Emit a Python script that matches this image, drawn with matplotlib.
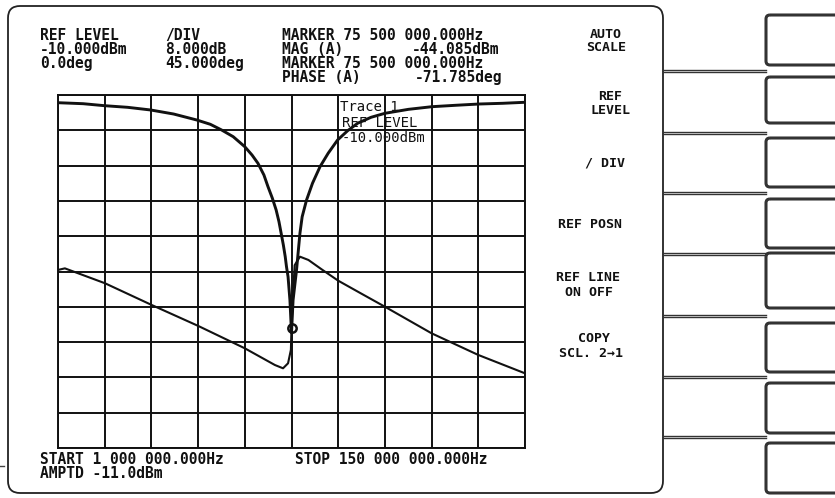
import numpy as np
import matplotlib.pyplot as plt
from matplotlib.patches import FancyBboxPatch

W, H = 835, 498

# --- trace data ---
# magnitude trace (MHz, dBm)
mag_freq = [1.1, 9.0, 15.8, 23.2, 30.6, 37.9, 45.3, 49.6, 53.2, 56.9, 60.6, 62.9, 64.8, 66.7,
            68.0, 69.4, 70.6, 71.5, 72.2, 72.9, 73.5, 73.9, 74.4, 75.0, 75.5,
            76.0, 77.1, 78.2, 78.9, 80.3, 82.2, 84.6, 87.2, 90.2, 93.4, 96.6, 100.9,
            105.3, 112.8, 120.3, 127.9, 135.4, 142.9, 150.0]
mag_dbm = [-11.75, -11.97, -12.42, -12.79, -13.40, -14.31, -15.67, -16.64, -17.93, -19.45, -21.72,
           -23.6, -25.48, -28.13, -30.78, -33.41, -36.06, -38.71, -41.34, -43.99, -46.65, -48.91,
           -51.18, -56.5, -63.9,
           -56.5, -49.7, -41.3, -37.6, -33.8, -30.0, -26.25, -23.2, -20.2, -18.1, -16.4, -15.05,
           -14.15, -13.25, -12.65, -12.33, -12.04, -11.88, -11.65]

# phase trace (MHz, deg)
ph_freq = [1.0, 3.2, 16.0, 30.9, 45.8, 60.6, 70.2, 72.8, 74.4, 75.3, 75.5, 75.9, 76.5, 78.2,
           80.9, 85.1, 90.4, 97.6, 105.3, 120.2, 135.1, 150.0]
ph_deg = [2, 4, -15, -42.7, -69.5, -97.9, -119.2, -123.4, -117, -100, -72, -36, 8, 18.9,
          14.7, 2.8, -11.7, -27.8, -44.9, -78.8, -106.4, -129.8]

marker_freq = 75.5
marker_phase = -71.785

start_mhz, stop_mhz = 1.0, 150.0
ref_level, db_div = -10.0, 8.0
ph_ref, deg_div = 0.0, 45.0

# --- screen text ---
header = [("REF LEVEL", 40, 35.5, 'left'), ("/DIV", 165, 35.5, 'left'),
          ("MARKER 75 500 000.000Hz", 282, 35.5, 'left'),
          ("-10.000dBm", 40, 49.5, 'left'), ("8.000dB", 165, 49.5, 'left'),
          ("MAG (A)", 282, 49.5, 'left'), ("-44.085dBm", 499, 49.5, 'right'),
          ("0.0deg", 40, 63.5, 'left'), ("45.000deg", 165, 63.5, 'left'),
          ("MARKER 75 500 000.000Hz", 282, 63.5, 'left'),
          ("PHASE (A)", 282, 77.5, 'left'), ("-71.785deg", 502, 77.5, 'right'),
          ("START 1 000 000.000Hz", 40, 459, 'left'),
          ("STOP 150 000 000.000Hz", 295, 459, 'left'),
          ("AMPTD -11.0dBm", 40, 473.5, 'left')]

softkeys = [("AUTO", 606, 34), ("SCALE", 606, 47.5), ("REF", 610, 96.5), ("LEVEL", 610, 110.5),
            ("/ DIV", 605, 163), ("REF POSN", 590, 224), ("REF LINE", 588, 277.5), ("ON OFF", 589, 292),
            ("COPY", 594, 338), ("SCL. 2→1", 591, 353)]

trace_note = [("Trace 1", 340, 107), ("REF LEVEL", 342, 123), ("-10.000dBm", 342, 138)]

# layout of the instrument frame (pixels)
key_boxes = [(15, 65), (77, 123), (138, 187), (199, 248), (253, 308), (323, 372), (383, 433), (443, 493)]
key_links = [71, 133, 193, 254, 316, 377, 437]

fig = plt.figure(figsize=(W / 100, H / 100), dpi=100)
fig.patch.set_facecolor('white')

# background overlay in pixel coordinates
bg = fig.add_axes([0, 0, 1, 1], zorder=0)
bg.set_xlim(0, W)
bg.set_ylim(H, 0)
bg.axis('off')
bg.add_patch(FancyBboxPatch((8, 6), 655, 487, boxstyle="round,pad=0,rounding_size=12",
                            fill=False, ec='#222222', lw=1.3))
for y0, y1 in key_boxes:
    bg.add_patch(FancyBboxPatch((766, y0), 90, y1 - y0, boxstyle="round,pad=0,rounding_size=4",
                                fill=False, ec='#333333', lw=2.2))
for y in key_links:
    bg.plot([663, 766], [y - 1.3, y - 1.3], color='#333333', lw=1.0)
    bg.plot([663, 766], [y + 1.3, y + 1.3], color='#333333', lw=1.0)
bg.plot([0, 4], [466, 466], color='#444444', lw=1)

mono = dict(family='DejaVu Sans Mono', weight='bold', size=10.5, color='#111111')
for s, x, y, ha in header:
    bg.text(x, y, s, ha=ha, va='center', **mono)
keyfont = dict(mono, size=9.5)
for s, x, y in softkeys:
    bg.text(x, y, s, ha='center', va='center', **keyfont)

# graticule / traces
ax = fig.add_axes([58 / W, 1 - 448 / H, (525 - 58) / W, (448 - 95) / H], zorder=2)
ax.patch.set_visible(False)
ax.set_xlim(start_mhz, stop_mhz)
ax.set_ylim(ref_level - 10 * db_div, ref_level)
ax.set_xticks(np.linspace(start_mhz, stop_mhz, 11))
ax.set_yticks(np.linspace(ref_level - 10 * db_div, ref_level, 11))
ax.grid(True, color='#111111', lw=1.4)
ax.tick_params(length=0, labelleft=False, labelbottom=False)
for sp in ax.spines.values():
    sp.set_color('#111111')
    sp.set_linewidth(1.4)
ax.plot(mag_freq, mag_dbm, color='#111111', lw=2.1, solid_joinstyle='round')

ax2 = ax.twinx()
ax2.set_ylim(ph_ref - 5 * deg_div, ph_ref + 5 * deg_div)
ax2.tick_params(length=0, labelright=False)
for sp in ax2.spines.values():
    sp.set_visible(False)
ax2.plot(ph_freq, ph_deg, color='#111111', lw=1.5, solid_joinstyle='round')
ax2.plot([marker_freq], [marker_phase], 'o', ms=6, mfc='none', mec='#111111', mew=1.8)

for s, x, y in trace_note:
    bg.text(x, y, s, ha='left', va='center', family='DejaVu Sans Mono', size=10,
            color='#111111', zorder=5)

fig.savefig('out.png', dpi=100)
